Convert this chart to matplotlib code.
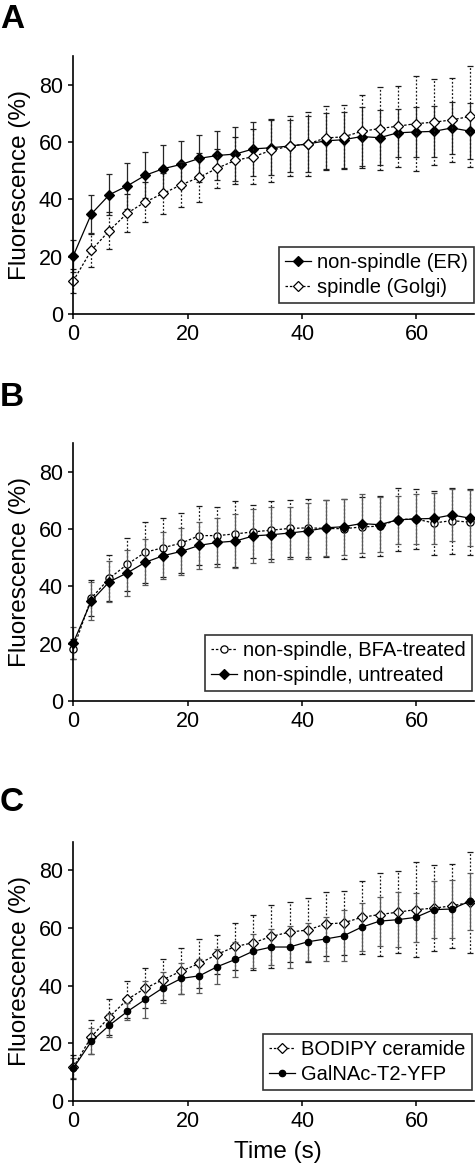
import matplotlib
matplotlib.use('Agg')
import matplotlib.pyplot as plt

plt.rcParams['font.family'] = ['Liberation Sans', 'DejaVu Sans']

# Time points (s)
time = [0, 3.15, 6.3, 9.45, 12.6, 15.75, 18.9, 22.05, 25.2, 28.35, 31.5, 34.65,
        37.8, 40.95, 44.1, 47.25, 50.4, 53.55, 56.7, 59.85, 63.0, 66.15, 69.3]

# non-spindle (ER) / non-spindle, untreated
er_mean = [20.3, 34.9, 41.6, 44.7, 48.4, 50.7, 52.2, 54.3, 55.3, 55.8, 57.6, 58.0,
           58.6, 59.3, 60.4, 60.8, 61.9, 61.5, 63.2, 63.5, 63.7, 64.9, 63.8]
er_sd = [5.5, 6.5, 7.2, 7.9, 8.0, 8.1, 8.1, 8.3, 8.5, 9.3, 9.4, 9.6,
         9.2, 9.9, 9.7, 9.7, 10.2, 9.6, 8.3, 8.6, 8.8, 9.2, 9.9]

# spindle (Golgi) / BODIPY ceramide
golgi_mean = [11.6, 22.2, 29.1, 35.2, 39.1, 42.1, 45.1, 47.7, 50.9, 53.6, 54.9, 57.1,
              58.6, 59.3, 61.4, 61.8, 63.7, 64.7, 65.5, 66.4, 66.9, 67.7, 68.9]
golgi_sd = [4.2, 5.8, 6.4, 6.5, 6.9, 7.2, 7.9, 8.5, 6.8, 8.3, 9.5, 11.0,
            10.5, 11.0, 11.0, 11.2, 12.6, 14.5, 14.2, 16.6, 15.0, 14.7, 17.6]

# non-spindle, BFA-treated
bfa_mean = [18.1, 35.9, 42.8, 47.7, 51.9, 53.5, 55.1, 57.7, 57.7, 58.3, 59.0, 59.6,
            60.2, 60.4, 60.2, 60.1, 60.7, 61.0, 63.3, 63.5, 62.1, 62.9, 62.4]
bfa_sd = [3.4, 6.4, 8.0, 9.2, 10.6, 10.3, 10.5, 10.2, 10.0, 11.5, 9.2, 10.0,
          9.8, 10.0, 10.0, 10.5, 10.5, 10.5, 11.1, 10.4, 11.2, 11.5, 11.5]

# GalNAc-T2-YFP
galnac_mean = [11.3, 20.6, 26.2, 31.0, 35.2, 39.3, 42.5, 43.4, 46.6, 49.1, 52.0, 53.4,
               53.4, 55.2, 56.2, 57.3, 60.3, 62.4, 62.9, 63.7, 66.4, 66.6, 69.3]
galnac_sd = [3.4, 4.5, 4.0, 3.0, 6.3, 5.4, 5.3, 6.0, 6.0, 6.2, 6.0, 6.1,
             7.3, 6.5, 7.5, 8.9, 8.3, 8.5, 9.6, 8.5, 9.8, 10.0, 9.9]

W, H = 475, 1163
fig = plt.figure(figsize=(W / 100, H / 100), dpi=100)


def add_series(ax, mean, sd, label, marker, filled, dotted, ecolor):
    eb = ax.errorbar(time, mean, yerr=sd, fmt='none', ecolor=ecolor,
                     elinewidth=0.9, capsize=2.0, capthick=0.9, clip_on=False)
    if dotted:
        eb[2][0].set_linestyle((0, (1.5, 1.5)))
    ms = 4.6 if marker == 'D' else 5.2
    if marker == 'o' and filled:
        ms = 4.6
    ax.plot(time, mean, color='black', lw=0.9,
            ls=(0, (2, 1.5)) if dotted else '-',
            marker=marker, ms=ms, mew=0.9,
            mfc='black' if filled else 'white', mec='black',
            label=label, clip_on=False)


def style_axes(ax, leg_anchor):
    ax.set_xlim(0, 70)
    ax.set_ylim(0, 90)
    ax.set_xticks([0, 20, 40, 60])
    ax.set_yticks([0, 20, 40, 60, 80])
    for s in ['top', 'right']:
        ax.spines[s].set_visible(False)
    for s in ['left', 'bottom']:
        ax.spines[s].set_linewidth(1.2)
    ax.tick_params(direction='out', length=3.5, width=1.1, labelsize=15.5, pad=4)
    ax.set_ylabel('Fluorescence (%)', fontsize=17.5)
    ax.yaxis.set_label_coords(-0.105, 0.5)
    leg = ax.legend(loc='lower right', bbox_to_anchor=leg_anchor, fontsize=14.5,
                    frameon=True, fancybox=False, edgecolor='black',
                    handlelength=1.3, handletextpad=0.3, borderpad=0.3,
                    labelspacing=0.28, borderaxespad=0)
    leg.get_frame().set_linewidth(1.2)


left = 73.3 / W
width = (473.7 - 73.3) / W

# Panel A
axA = fig.add_axes([left, 1 - 314 / H, width, 258 / H])
add_series(axA, er_mean, er_sd, 'non-spindle (ER)', 'D', True, False, '0.15')
add_series(axA, golgi_mean, golgi_sd, 'spindle (Golgi)', 'D', False, True, '0.1')
style_axes(axA, (1.0, 0.043))

# Panel B
axB = fig.add_axes([left, 1 - 701 / H, width, 258 / H])
add_series(axB, bfa_mean, bfa_sd, 'non-spindle, BFA-treated', 'o', False, True, '0.1')
add_series(axB, er_mean, er_sd, 'non-spindle, untreated', 'D', True, False, '0.35')
style_axes(axB, (0.995, 0.04))

# Panel C
axC = fig.add_axes([left, 1 - 1100.7 / H, width, 259 / H])
add_series(axC, golgi_mean, golgi_sd, 'BODIPY ceramide', 'D', False, True, '0.1')
add_series(axC, galnac_mean, galnac_sd, 'GalNAc-T2-YFP', 'o', True, False, '0.35')
style_axes(axC, (0.995, 0.041))
axC.set_xlabel('Time (s)', fontsize=17.5)
axC.xaxis.set_label_coords(0.51, -0.155)

# Panel letters
for letter, ytop in [('A', 4), ('B', 382), ('C', 787)]:
    fig.text(0.0, 1 - ytop / H, letter, ha='left', va='top',
             fontsize=24, fontweight='bold')

fig.savefig('out.png', dpi=100)
